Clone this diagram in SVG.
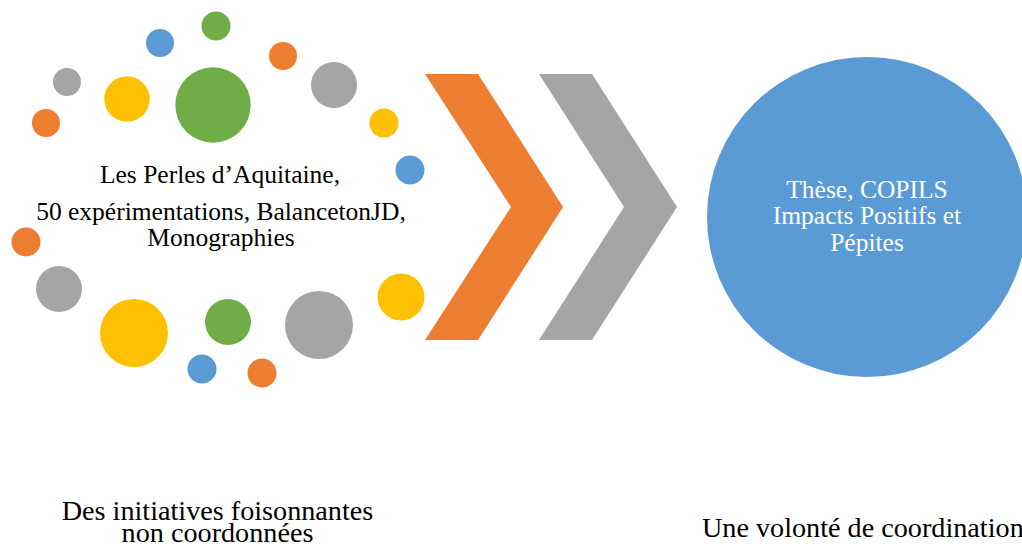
<svg xmlns="http://www.w3.org/2000/svg" width="1022" height="554" viewBox="0 0 1022 554">
<style>
.o{fill:#ED7D31}.g{fill:#A5A5A5}.y{fill:#FFC000}.b{fill:#5B9BD5}.gr{fill:#70AD47}
text{font-family:"Liberation Serif","Times New Roman",serif;text-anchor:middle}
.t{font-size:25.5px;fill:#000}
.w{font-size:25.5px;fill:#fff}
.cap{font-size:28.2px;fill:#000}
</style>
<rect width="1022" height="554" fill="#fff"/>
<g id="bubbles">
<circle class="gr" cx="216" cy="26" r="14.5"/>
<circle class="b" cx="160" cy="43" r="14"/>
<circle class="o" cx="283" cy="56" r="14"/>
<circle class="g" cx="67" cy="82" r="14"/>
<circle class="y" cx="127" cy="99" r="22.7"/>
<circle class="gr" cx="213" cy="105" r="37.7"/>
<circle class="g" cx="334" cy="85" r="23"/>
<circle class="o" cx="46" cy="123" r="14"/>
<circle class="y" cx="384" cy="123" r="14.5"/>
<circle class="b" cx="410" cy="170" r="14.5"/>
<circle class="o" cx="26" cy="242" r="14.5"/>
<circle class="g" cx="59" cy="289" r="23"/>
<circle class="y" cx="134" cy="333" r="34"/>
<circle class="gr" cx="228" cy="322" r="23"/>
<circle class="g" cx="319" cy="325" r="34"/>
<circle class="y" cx="401" cy="297" r="23.5"/>
<circle class="b" cx="202" cy="369" r="14.5"/>
<circle class="o" cx="262" cy="373" r="14.5"/>
</g>
<g id="initiatives-text">
<text class="t" x="220" y="183">Les Perles d’Aquitaine,</text>
<text class="t" x="221" y="220">50 expérimentations, BalancetonJD,</text>
<text class="t" x="221" y="246">Monographies</text>
</g>
<g id="connectors">
<polygon class="o" points="425,74 478,74 563,207 478,340 425,340 511,207"/>
<polygon class="g" points="539,74 592,74 677,207 592,340 539,340 624,207"/>
</g>
<g id="coordination">
<circle class="b" cx="867" cy="217" r="160"/>
<text class="w" x="867" y="198">Thèse, COPILS</text>
<text class="w" x="867" y="224">Impacts Positifs et</text>
<text class="w" x="867" y="251">Pépites</text>
</g>
<g id="caption-left">
<text class="cap" x="217.5" y="520">Des initiatives foisonnantes</text>
<text class="cap" x="217.5" y="542">non coordonnées</text>
</g>
<g id="caption-right">
<text class="cap" x="702" y="537" style="text-anchor:start">Une volonté de coordination</text>
</g>
</svg>
